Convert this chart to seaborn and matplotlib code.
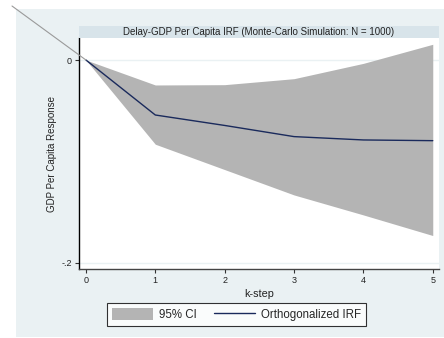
import matplotlib
matplotlib.use("Agg")
import matplotlib.pyplot as plt
import seaborn as sns
import pandas as pd
from matplotlib.patches import Rectangle, ConnectionPatch
from matplotlib.lines import Line2D
from matplotlib.patches import Patch

steps = [0, 1, 2, 3, 4, 5]
irf = [0.0, -0.0542, -0.0645, -0.0755, -0.0788, -0.0795]
ci_upper = [0.0, -0.0246, -0.0243, -0.0184, -0.0033, 0.0155]
ci_lower = [0.0, -0.083, -0.108, -0.133, -0.1527, -0.173]
ytick_vals = [0.0, -0.2]
ytick_labels = ["0", "-.2"]
title = "Delay-GDP Per Capita IRF (Monte-Carlo Simulation: N = 1000)"

sns.set_theme(style="white")
plt.rcParams["font.family"] = ["Liberation Sans", "DejaVu Sans"]

W, H = 444, 338
fig = plt.figure(figsize=(W / 100, H / 100), dpi=100, facecolor="white")

BG = "#EAF1F3"
STRIP = "#D8E4EA"

def fx(px):
    return px / W

def fy(py):
    return 1 - py / H

# outer graph region
fig.add_artist(Rectangle((fx(16), fy(337)), fx(444) - fx(16), fy(9) - fy(337),
                         transform=fig.transFigure, facecolor=BG, edgecolor="none", zorder=0))
# title strip
fig.add_artist(Rectangle((fx(79), fy(38)), fx(439) - fx(79), fy(26) - fy(38),
                         transform=fig.transFigure, facecolor=STRIP, edgecolor="none", zorder=1))
fig.text(fx(259), fy(32), title, ha="center", va="center", fontsize=7.0, color="#222222")

ax = fig.add_axes([fx(79), fy(269), fx(439) - fx(79), fy(38) - fy(269)])
ax.set_facecolor("white")

df = pd.DataFrame({"step": steps, "irf": irf, "lo": ci_lower, "hi": ci_upper})
ax.fill_between(df["step"], df["lo"], df["hi"], color="#B4B4B4", linewidth=0, zorder=2)
sns.lineplot(data=df, x="step", y="irf", ax=ax, color="#1A2A5C", linewidth=1.0, zorder=3)

for v in ytick_vals:
    ax.axhline(v, color=BG, linewidth=1.0, zorder=1)

ax.set_xlim(-0.1, 5.09)
ax.set_ylim(-0.206, 0.0217)
ax.set_yticks(ytick_vals)
ax.set_yticklabels(ytick_labels)
ax.set_xticks(steps)
ax.set_xticklabels([str(s) for s in steps])
ax.tick_params(axis="both", direction="out", length=3, width=0.8, color="#333333",
               labelsize=6.5, pad=2, labelcolor="#222222")
ax.tick_params(axis="y", left=True)
ax.tick_params(axis="x", bottom=True)

for s in ["top", "right"]:
    ax.spines[s].set_visible(False)
ax.spines["left"].set_color("black")
ax.spines["left"].set_linewidth(1.0)
ax.spines["bottom"].set_color("#444444")
ax.spines["bottom"].set_linewidth(1.0)

ax.set_xlabel("k-step", fontsize=7.8, color="#222222", labelpad=3)
ax.set_ylabel("GDP Per Capita Response", fontsize=7.0, color="#222222", labelpad=3)

# stray diagonal line from top-left to origin
con = ConnectionPatch(xyA=(0, 0), coordsA=ax.transData,
                      xyB=(fx(12), fy(6)), coordsB=fig.transFigure,
                      color="#9A9A9A", linewidth=0.8, zorder=5)
fig.add_artist(con)

handles = [Patch(facecolor="#B4B4B4", edgecolor="none", label="95% CI"),
           Line2D([0], [0], color="#1A2A5C", linewidth=1.0, label="Orthogonalized IRF")]
leg = fig.legend(handles=handles, loc="center", bbox_to_anchor=(fx(236.5), fy(314.5)),
                 ncol=2, frameon=True, fontsize=8.3, handlelength=3.55, handleheight=1.13,
                 columnspacing=1.55, handletextpad=0.5, borderpad=0.43, fancybox=False,
                 borderaxespad=0)
leg.get_frame().set_edgecolor("black")
leg.get_frame().set_linewidth(0.8)
leg.get_frame().set_facecolor("white")

fig.savefig("out.png", dpi=100, facecolor="white")
